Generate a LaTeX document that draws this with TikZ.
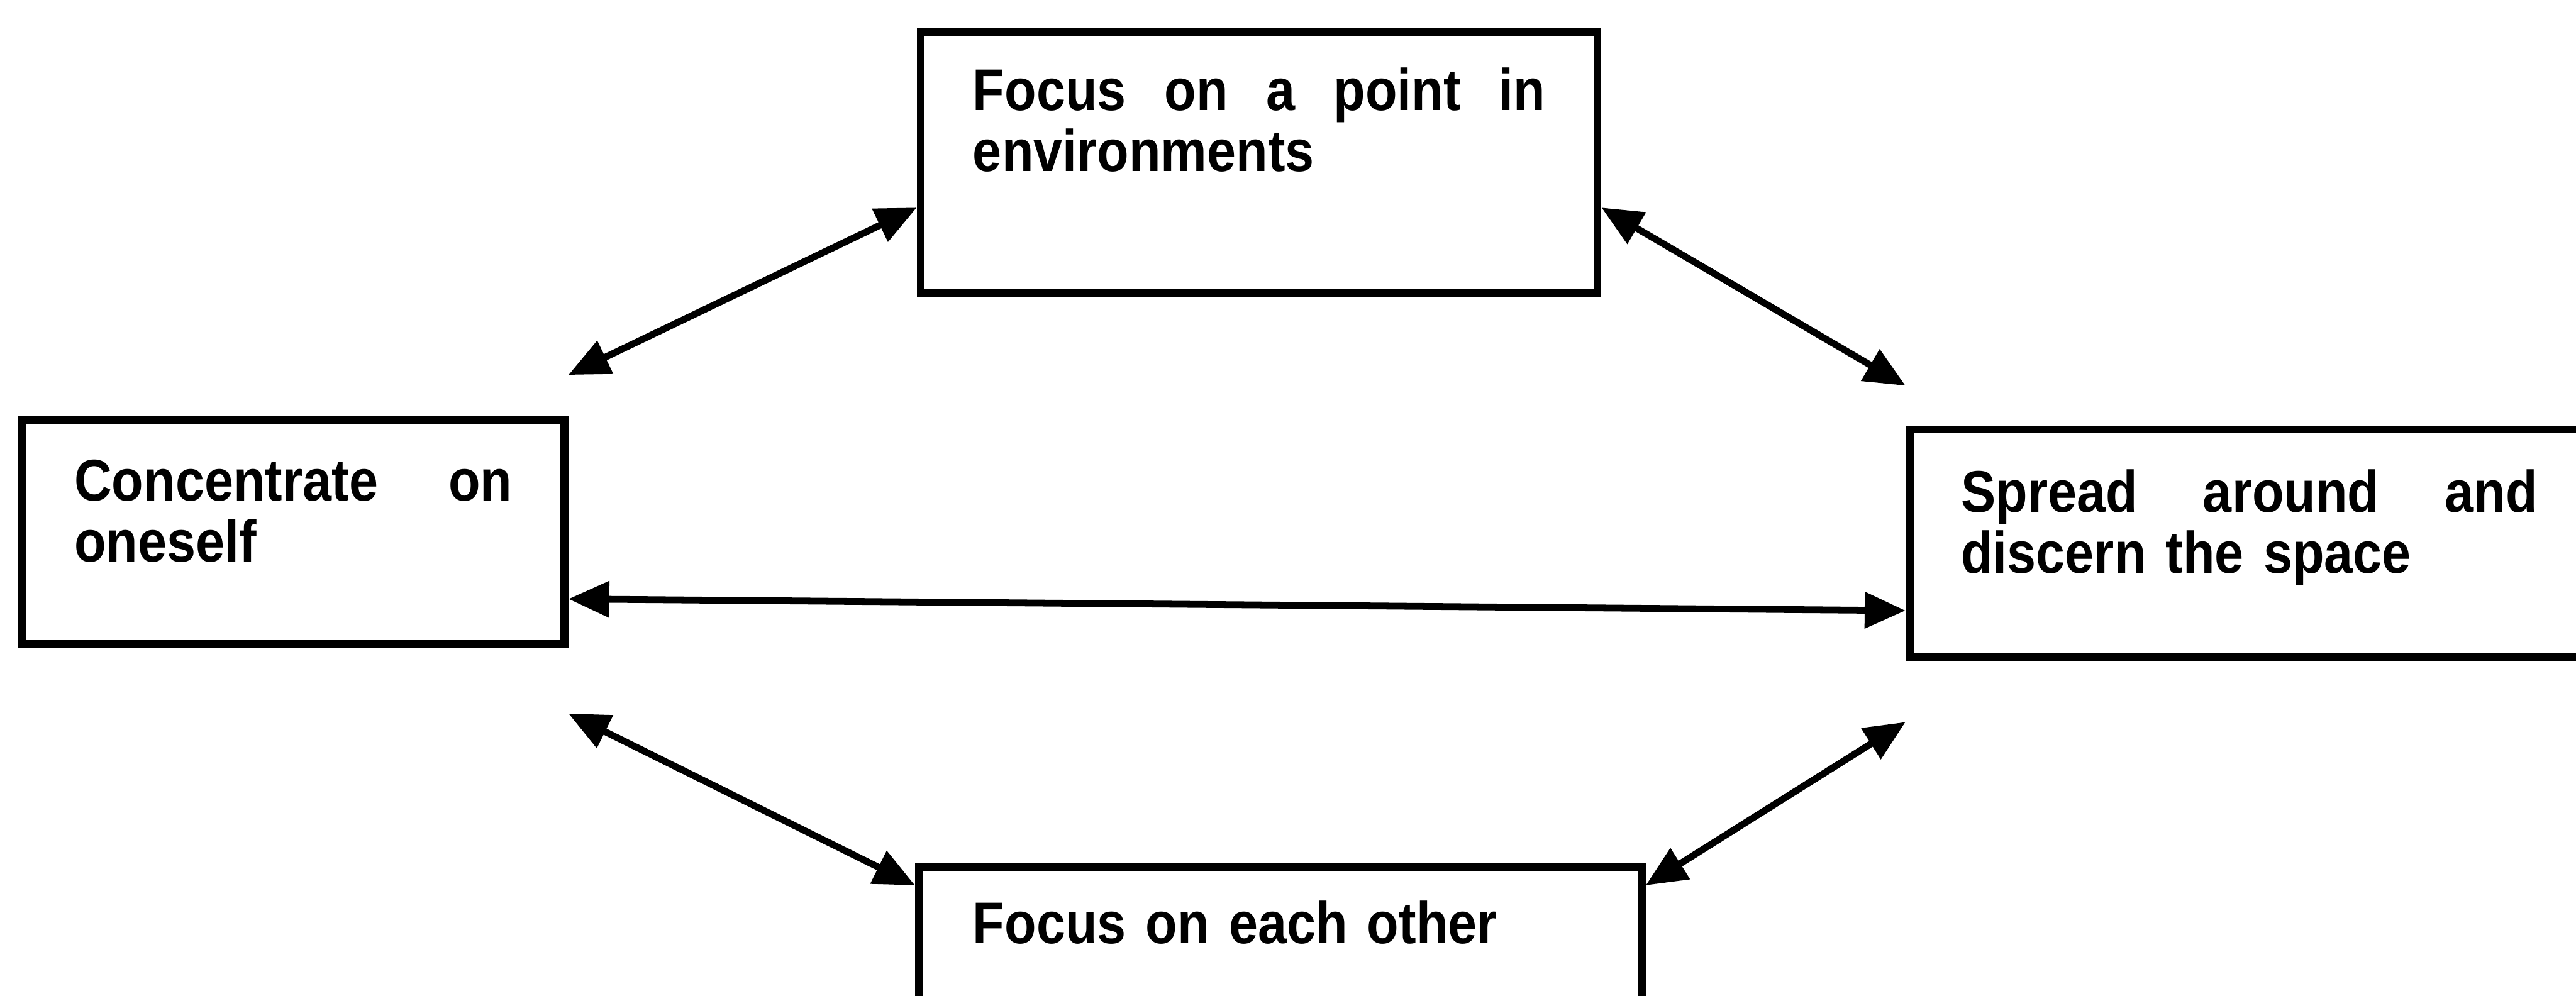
\documentclass[tikz,border=0pt]{standalone}
\usepackage{fontspec}
\setmainfont{Liberation Sans}[UprightFont=*-Bold, FakeStretch=0.885]
\usetikzlibrary{arrows.meta,calc}
\begin{document}
\begin{tikzpicture}[
  panel/.style={draw=black, line width=4pt, rectangle, anchor=north west,
    align=left, font=\fontsize{29.5pt}{30.5pt}\selectfont, text height=0.75cm},
  link/.style={line width=3.4pt,
    {Triangle[length=0.72cm,width=0.62cm]}-{Triangle[length=0.72cm,width=0.62cm]}}
]
\useasboundingbox (0,0) rectangle (45.41,-17.56);
\fill[white] (0,0) rectangle (45.41,-17.56);

% the four states
\node[panel, inner xsep=0.92cm, inner ysep=0.64cm, text width=10.09cm, text depth=2.57cm]
  (T) at (16.16,-0.49)
  {\makebox[10.09cm][s]{Focus\hfill on\hfill a\hfill point\hfill in}\\environments};
\node[panel, inner xsep=0.92cm, inner ysep=0.68cm, text width=7.72cm, text depth=1.85cm]
  (L) at (0.32,-7.33)
  {\makebox[7.72cm][s]{Concentrate\hfill on}\\oneself};
\node[panel, inner xsep=0.91cm, inner ysep=0.71cm, text width=10.16cm, text depth=1.84cm]
  (R) at (33.59,-7.50)
  {\makebox[10.16cm][s]{Spread\hfill around\hfill and}\\discern the space};
\node[panel, inner xsep=0.95cm, inner ysep=0.61cm, text width=10.84cm, text depth=2.02cm]
  (B) at (16.13,-15.21) {Focus on each other};

% free ends of the diagonal links
\coordinate (p1) at ([yshift=0.72cm]L.north east);
\coordinate (p2) at ([yshift=0.70cm]R.north west);
\coordinate (p3) at ([yshift=-1.15cm]L.south east);
\coordinate (p4) at ([yshift=-1.08cm]R.south west);

% two-way links
\draw[link] (p1) -- ([yshift=-0.8cm]T.west);
\draw[link] ([yshift=-0.8cm]T.east) -- (p2);
\draw[link] ([yshift=-1.18cm]L.east) -- ([yshift=-1.19cm]R.west);
\draw[link] (p3) -- ([yshift=-0.4cm]B.north west);
\draw[link] ([yshift=-0.4cm]B.north east) -- (p4);
\end{tikzpicture}
\end{document}
